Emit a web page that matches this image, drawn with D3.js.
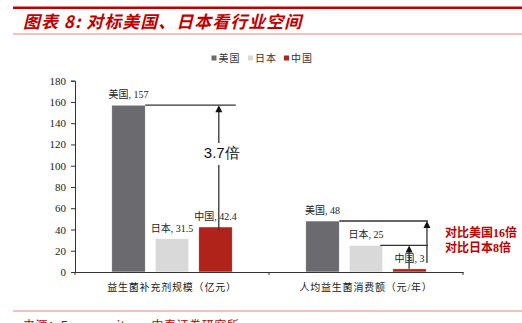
<!DOCTYPE html>
<html>
<head>
<meta charset="utf-8">
<script src="https://cdn.jsdelivr.net/npm/d3@7"></script>
<style>
  html, body { margin: 0; padding: 0; background: #fff; }
  svg { display: block; }
</style>
</head>
<body>
<div id="chart"></div>
<script>
// Market comparison: probiotic supplement market size and per-capita spending
const categories = ["益生菌补充剂规模（亿元）", "人均益生菌消费额（元/年）"];
const series = ["美国", "日本", "中国"];
const marketSize = [157, 31.5, 42.4];
const perCapita = [48, 25, 3];
const yTicks = [0, 20, 40, 60, 80, 100, 120, 140, 160, 180];
const seriesColors = ["#6b6b6f", "#d9d9d9", "#b0231b"];
const multipleLabel = "3.7倍";
const compareNotes = ["对比美国16倍", "对比日本8倍"];

const values = [marketSize, perCapita];

const W = 522, H = 323;
const svg = d3.select("#chart").append("svg").attr("width", W).attr("height", H);

const serif = "'Liberation Serif', 'Noto Sans CJK SC', serif";
const sans = "'Noto Sans CJK SC', sans-serif";
const red = "#c00000";

// Header rules and title
svg.append("line").attr("x1", 13).attr("x2", W).attr("y1", 7.8).attr("y2", 7.8)
  .attr("stroke", "#c00000").attr("stroke-width", 2.6);
svg.append("line").attr("x1", 13).attr("x2", W).attr("y1", 34).attr("y2", 34)
  .attr("stroke", "#e88080").attr("stroke-width", 1);
svg.append("text").attr("x", 23).attr("y", 28)
  .attr("font-family", sans).attr("font-size", 17).attr("font-weight", "bold")
  .attr("font-style", "italic").attr("letter-spacing", 1).attr("fill", red)
  .text("图表 8: 对标美国、日本看行业空间");

// Footer rule and source
svg.append("line").attr("x1", 13).attr("x2", W).attr("y1", 311).attr("y2", 311)
  .attr("stroke", "#e88080").attr("stroke-width", 1);
svg.append("text").attr("x", 23).attr("y", 330)
  .attr("font-family", sans).attr("font-size", 12).attr("letter-spacing", 0.6).attr("fill", red)
  .text("来源：Euromonitor，中泰证券研究所");

// Scales
const y = d3.scaleLinear().domain([0, 180]).range([272, 80.7]);
const x0 = d3.scaleBand().domain(categories).range([75, 463]).paddingInner(0).paddingOuter(0);
const x1 = d3.scaleBand().domain(series).range([0, x0.bandwidth()])
  .paddingInner(0.23).paddingOuter(0.845);

// Y axis
const yAxis = d3.axisLeft(y).tickValues(yTicks).tickSize(4).tickPadding(5);
const gy = svg.append("g").attr("transform", "translate(75,0)").call(yAxis);
gy.select(".domain").attr("stroke", "#333");
gy.selectAll(".tick line").attr("stroke", "#333");
gy.selectAll(".tick text").attr("font-family", serif).attr("font-size", 11).attr("fill", "#222");

// Bars
const groups = svg.append("g").selectAll("g").data(categories).join("g")
  .attr("transform", d => `translate(${x0(d)},0)`);
groups.selectAll("rect")
  .data((c, ci) => series.map((s, si) => ({ s, si, v: values[ci][si] })))
  .join("rect")
  .attr("x", d => x1(d.s))
  .attr("width", x1.bandwidth())
  .attr("y", d => y(d.v))
  .attr("height", d => y(0) - y(d.v))
  .attr("fill", d => seriesColors[d.si])
  .attr("stroke", "#fff").attr("stroke-width", 0.6);

// Data labels
groups.selectAll("text.val")
  .data((c, ci) => series.map((s, si) => ({ s, si, v: values[ci][si] })))
  .join("text").attr("class", "val")
  .attr("x", d => x1(d.s) + x1.bandwidth() / 2)
  .attr("y", d => y(d.v) - 7)
  .attr("text-anchor", "middle")
  .attr("font-family", serif).attr("font-size", 10).attr("fill", "#222")
  .text(d => `${d.s}, ${d.v}`);

// X axis
const xAxis = d3.axisBottom(x0).tickSize(0).tickFormat(() => "");
const gx = svg.append("g").attr("transform", `translate(0,${y(0)})`).call(xAxis);
gx.select(".domain").attr("stroke", "#333").attr("stroke-width", 1.2);
[x0.range()[0], x0(categories[1]), x0.range()[1]].forEach(xv => {
  svg.append("line").attr("x1", xv).attr("x2", xv).attr("y1", y(0)).attr("y2", y(0) + 3)
    .attr("stroke", "#333");
});
svg.selectAll("text.cat").data(categories).join("text").attr("class", "cat")
  .attr("x", d => x0(d) + x0.bandwidth() / 2)
  .attr("y", 291)
  .attr("text-anchor", "middle")
  .attr("font-family", serif).attr("font-size", 10).attr("letter-spacing", 0.8).attr("fill", "#222")
  .text(d => d);

// Legend
const legend = svg.append("g");
const legendX = [211.5, 248, 284];
series.forEach((s, i) => {
  legend.append("rect").attr("x", legendX[i]).attr("y", 55.5).attr("width", 5).attr("height", 5)
    .attr("fill", seriesColors[i]);
  legend.append("text").attr("x", legendX[i] + 7).attr("y", 62)
    .attr("font-family", serif).attr("font-size", 10).attr("letter-spacing", 1).attr("fill", "#333").text(s);
});

// Annotation helpers
const ann = svg.append("g").attr("stroke", "#333").attr("stroke-width", 1.3).attr("fill", "none");
function hline(xa, xb, v) {
  ann.append("line").attr("x1", xa).attr("x2", xb).attr("y1", y(v)).attr("y2", y(v));
}
function arrowUp(xv, yStart, yEnd) {
  ann.append("line").attr("x1", xv).attr("x2", xv).attr("y1", yStart).attr("y2", yEnd + 6);
  svg.append("path")
    .attr("d", `M${xv},${yEnd} L${xv - 3.5},${yEnd + 7} L${xv + 3.5},${yEnd + 7} Z`)
    .attr("fill", "#111");
}

// Left group: US vs China market size
{
  const c = categories[0], bx = x0(c);
  const usRight = bx + x1("美国") + x1.bandwidth();
  const cnLeft = bx + x1("中国"), cnRight = cnLeft + x1.bandwidth();
  const ax = cnLeft + x1.bandwidth() / 2 + 3.3;
  hline(usRight, cnRight + 3.5, marketSize[0]);
  arrowUp(ax, y(marketSize[2]) + 3, y(marketSize[0]));
  // gap in the arrow shaft for the multiple label
  svg.append("rect").attr("x", ax - 16).attr("y", 143).attr("width", 34).attr("height", 22).attr("fill", "#fff");
  svg.append("text").attr("x", ax + 3).attr("y", 157.5).attr("text-anchor", "middle")
    .attr("font-family", "'Liberation Sans', Arial, sans-serif").attr("font-size", 15)
    .attr("fill", "#111").text(multipleLabel);
}

// Right group: per-capita comparison
{
  const c = categories[1], bx = x0(c);
  const usRight = bx + x1("美国") + x1.bandwidth();
  const jpRight = bx + x1("日本") + x1.bandwidth();
  const cnLeft = bx + x1("中国"), cnRight = cnLeft + x1.bandwidth();
  const axOuter = cnRight + 0.7;
  const axInner = cnLeft + x1.bandwidth() / 2 - 0.4;
  hline(usRight, axOuter + 1, perCapita[0]);
  hline(jpRight - 2.5, axOuter + 1, perCapita[1]);
  arrowUp(axOuter, y(8.5), y(perCapita[0]));
  arrowUp(axInner, y(perCapita[2]), y(perCapita[1]));
  compareNotes.forEach((t, i) => {
    svg.append("text").attr("x", 445).attr("y", 237 + i * 14.6)
      .attr("font-family", serif).attr("font-size", 12).attr("font-weight", "bold")
      .attr("fill", red).text(t);
  });
}
</script>
</body>
</html>
